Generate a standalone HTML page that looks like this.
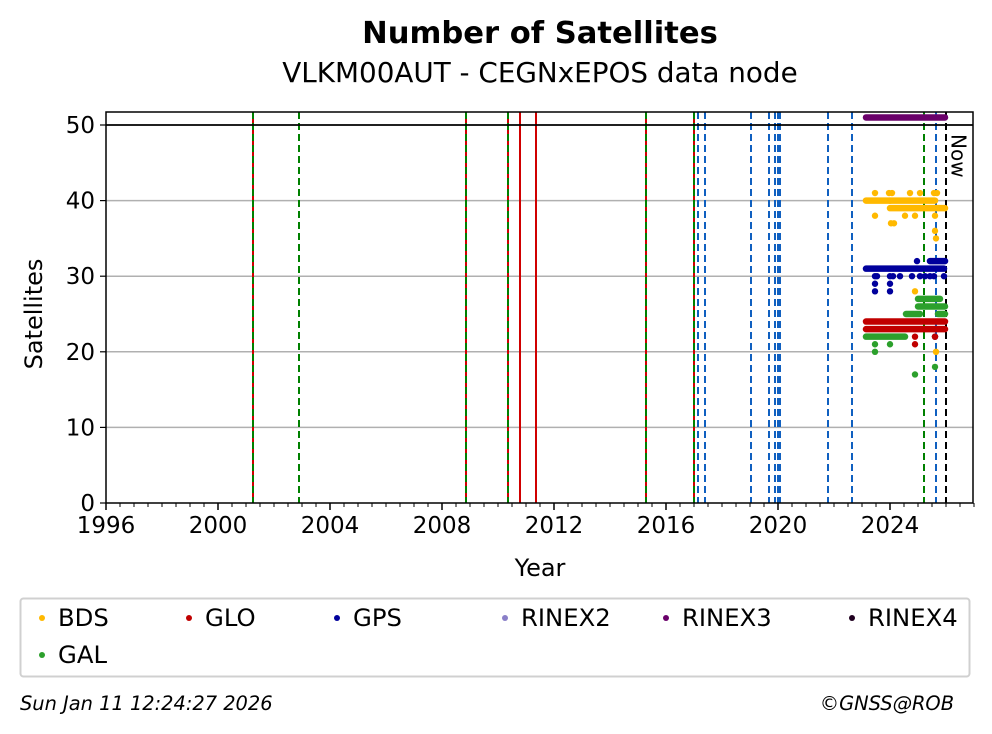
<!DOCTYPE html>
<html><head><meta charset="utf-8"><style>
html,body{margin:0;padding:0;background:#fff;width:992px;height:734px;overflow:hidden}
svg{font-family:"DejaVu Sans","Liberation Sans",sans-serif}
</style></head><body>
<svg id="s" width="992" height="734" xmlns="http://www.w3.org/2000/svg">
<rect width="992" height="734" fill="#fff"/>
<text x="540" y="43" font-size="30.6" font-weight="bold" text-anchor="middle">Number of Satellites</text>
<text x="540" y="82" font-size="27.8" text-anchor="middle">VLKM00AUT - CEGNxEPOS data node</text>
<g id="grid"></g>
<g id="vl"></g>
<g id="pts"></g>
<line x1="106" y1="125" x2="973" y2="125" stroke="#000" stroke-width="1.8"/>
<rect x="106" y="112" width="867" height="391" fill="none" stroke="#000" stroke-width="1.5"/>
<g id="ticks"></g>
<text x="957" y="134" font-size="20" transform="rotate(90 957 134)" dominant-baseline="middle">Now</text>
<text x="540" y="576" font-size="24" text-anchor="middle">Year</text>
<text x="42" y="314" font-size="24" text-anchor="middle" transform="rotate(-90 42 314)">Satellites</text>
<rect x="20.5" y="598.5" width="949" height="78" rx="3" fill="#fff" stroke="#d0d0d0" stroke-width="2"/>
<g font-size="24.3">
<circle cx="42" cy="618" r="3" fill="#ffb900"/><text x="58" y="626">BDS</text>
<circle cx="189" cy="618" r="3" fill="#c00000"/><text x="205" y="626">GLO</text>
<circle cx="337" cy="618" r="3" fill="#00009c"/><text x="353" y="626">GPS</text>
<circle cx="505" cy="618" r="3" fill="#8a7fc8"/><text x="521" y="626">RINEX2</text>
<circle cx="666" cy="618" r="3" fill="#6a006a"/><text x="682" y="626">RINEX3</text>
<circle cx="852" cy="618" r="3" fill="#200020"/><text x="868" y="626">RINEX4</text>
<circle cx="42" cy="655" r="3" fill="#2ca02c"/><text x="58" y="663">GAL</text>
</g>
<text x="20" y="710" font-size="19.4" font-style="italic">Sun Jan 11 12:24:27 2026</text>
<text x="954" y="710" font-size="19.4" font-style="italic" text-anchor="end">©GNSS@ROB</text>
</svg>
<script>
var NS="http://www.w3.org/2000/svg";
function el(g,t,a){var e=document.createElementNS(NS,t);for(var k in a)e.setAttribute(k,a[k]);document.getElementById(g).appendChild(e);return e;}
function Y(v){return 503-7.56*v;}
function X(yr){return 106+28*(yr-1996);}
[10,20,30,40].forEach(function(v){el("grid","line",{x1:106,x2:973,y1:Y(v),y2:Y(v),stroke:"#b0b0b0","stroke-width":1.5});});
[0,10,20,30,40,50].forEach(function(v){el("ticks","line",{x1:100,x2:106,y1:Y(v),y2:Y(v),stroke:"#000","stroke-width":1.2});
 var t=el("ticks","text",{x:95,y:Y(v)+8,"font-size":23,"text-anchor":"end"});t.textContent=v;});
for(var yr=1996;yr<=2027;yr+=0.5){var x=X(yr);var maj=(yr%4===0);
 el("ticks","line",{x1:x,x2:x,y1:503,y2:maj?510:507,stroke:"#000","stroke-width":maj?1.5:1});
 if(maj){var t=el("ticks","text",{x:x,y:533,"font-size":23,"text-anchor":"middle"});t.textContent=yr;}}
function vline(x,c,dash,w){var a={x1:x,x2:x,y1:112,y2:503,stroke:c,"stroke-width":w||2};if(dash)a["stroke-dasharray"]="7,4";el("vl","line",a);}
[253,466,508,646,694].forEach(function(x){vline(x,"#d00000",0);vline(x,"#008000",1);});
vline(299,"#008000",1);vline(520,"#d00000",0);vline(536,"#d00000",0);
[698,705,751,769,775,778,780,828,852,936].forEach(function(x){vline(x,"#1060c0",1);});
vline(924,"#008000",1);vline(946,"#000",1);
function run(x1,x2,v,c){el("pts","line",{x1:x1,x2:x2,y1:Y(v),y2:Y(v),stroke:c,"stroke-width":6.5,"stroke-linecap":"round"});}
function dot(x,v,c){el("pts","circle",{cx:x,cy:Y(v),r:3.2,fill:c});}
var B="#ffb900",R="#c00000",G="#00009c",E="#2ca02c",P="#6a006a";
run(866,945,51,P);
run(866,890,40,B);run(890,945,39,B);run(890,935,40,B);
[875,889,892,910,920,934,937].forEach(function(x){dot(x,41,B);});
[875,905,915,935].forEach(function(x){dot(x,38,B);});dot(891,37,B);dot(894,37,B);
dot(935,36,B);dot(936,35,B);dot(915,28,B);dot(936,20,B);dot(935,22,B);
run(866,944,31,G);run(930,945,32,G);dot(917,32,G);
[875,877,890,893,900,912,920,925,930,934,944].forEach(function(x){dot(x,30,G);});
[875,890].forEach(function(x){dot(x,29,G);});dot(875,28,G);dot(890,28,G);dot(935,22,G);
run(918,940,27,E);run(918,945,26,E);run(906,920,25,E);run(938,945,25,E);
run(866,945,24,R);run(866,945,23,R);dot(915,22,R);dot(935,22,R);dot(915,21,R);dot(935,23,R);
run(866,905,22,E);[875,890].forEach(function(x){dot(x,21,E);});dot(875,20,E);dot(915,17,E);dot(935,18,E);
</script>
</body></html>
